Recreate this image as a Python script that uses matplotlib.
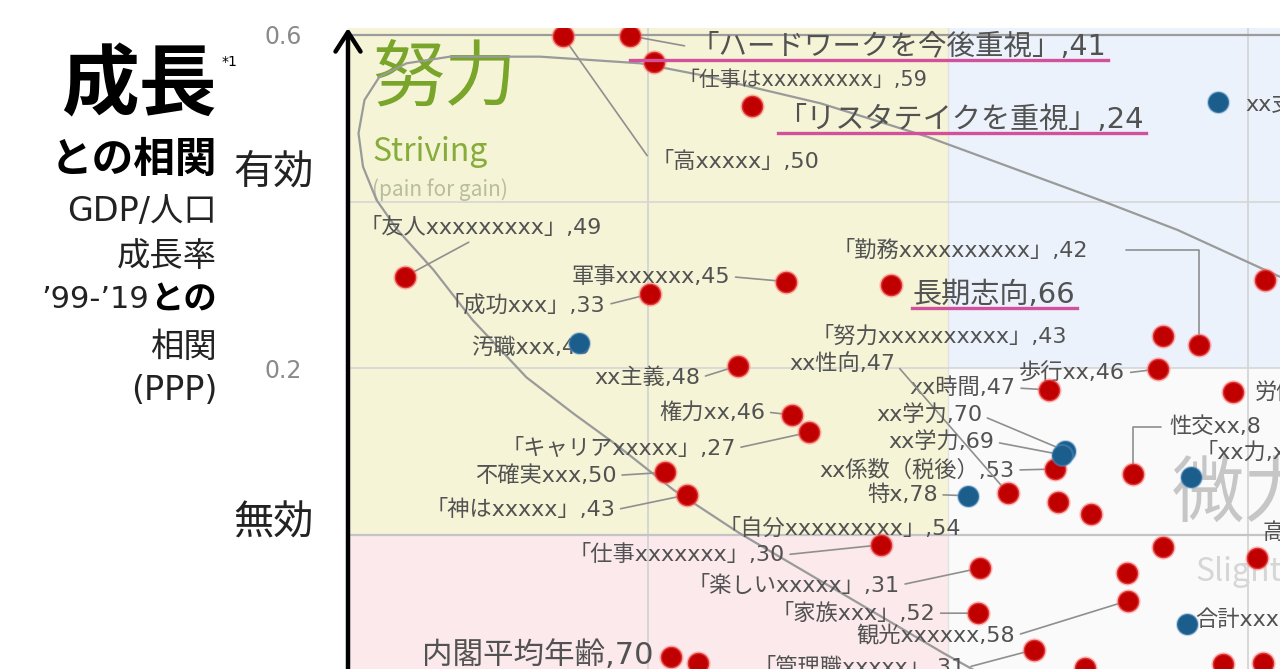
import matplotlib
matplotlib.use('Agg')
import matplotlib.pyplot as plt
from matplotlib.patches import Rectangle
from matplotlib.lines import Line2D
from matplotlib.transforms import IdentityTransform

plt.rcParams['font.family'] = ['Noto Sans CJK JP', 'DejaVu Sans']
WIDE = ['DejaVu Sans', 'Noto Sans CJK JP']

# ---------------- data ----------------
red_labels = ['「高xxxxx」,50', '「ハードワークを今後重視」,41', '「仕事はxxxxxxxxx」,59',
              '「リスタテイクを重視」,24', '「友人xxxxxxxxx」,49', '「成功xxx」,33',
              '軍事xxxxxx,45', '長期志向,66', 'xx主義,48', '権力xx,46', '「キャリアxxxxx」,27',
              '不確実xxx,50', '「神はxxxxx」,43', '', '「努力xxxxxxxxxx」,43',
              '「勤務xxxxxxxxxx」,42', '歩行xx,46', 'xx時間,47', '労働xxx', '性交xx,8',
              'xx係数（税後）,53', 'xx性向,47', '', '「自分xxxxxxxxx」,54', '「仕事xxxxxxx」,30',
              '「楽しいxxxxx」,31', '', '', '高xxx', '「家族xxx」,52', '観光xxxxxx,58',
              '「管理職xxxxx」,31', '', '', '', '内閣平均年齢,70', '']
red_x = [-0.257, -0.212, -0.196, -0.131, -0.362, -0.199, -0.108, -0.038, -0.140, -0.104,
         -0.093, -0.189, -0.174, 0.211, 0.143, 0.167, 0.140, 0.067, 0.190, 0.123,
         0.071, 0.040, 0.073, 0.095, -0.045, 0.021, 0.119, 0.143, 0.206, 0.020,
         0.120, 0.057, 0.183, 0.210, 0.091, -0.185, -0.167]
red_y = [0.599, 0.599, 0.568, 0.515, 0.310, 0.289, 0.304, 0.300, 0.203, 0.144,
         0.123, 0.075, 0.048, 0.306, 0.239, 0.228, 0.199, 0.174, 0.171, 0.073,
         0.079, 0.050, 0.039, 0.025, -0.012, -0.040, -0.046, -0.015, -0.028, -0.094,
         -0.079, -0.138, -0.155, -0.154, -0.160, -0.147, -0.154]

blue_labels = ['xx支出xxx', '汚職xxx,40', 'xx学力,70', 'xx学力,69', '特x,78', '「xx力,xx', '合計xxx']
blue_x = [0.180, -0.246, 0.078, 0.076, 0.013, 0.162, 0.159]
blue_y = [0.520, 0.230, 0.101, 0.096, 0.047, 0.069, -0.107]

curve_x = [0.221, 0.153, 0.101, -0.014, -0.085, -0.165, -0.205, -0.272, -0.332, -0.361,
           -0.379, -0.389, -0.393, -0.390, -0.381, -0.367, -0.343, -0.317, -0.281, -0.250,
           -0.221, -0.183, -0.139, -0.105, -0.003, 0.017]
curve_y = [0.310, 0.366, 0.402, 0.478, 0.518, 0.552, 0.566, 0.574, 0.574, 0.566,
           0.550, 0.522, 0.482, 0.442, 0.402, 0.366, 0.318, 0.258, 0.189, 0.146,
           0.108, 0.054, 0.002, -0.034, -0.142, -0.162]

y_ticks = [0.6, 0.2]
y_tick_labels = ['0.6', '0.2']

# ---------------- layout / style ----------------
W, H = 1280, 669
XMIN, XMAX = -0.4, 0.2213
YMIN, YMAX = -0.161, 0.6084

RED = '#c00000'
BLUE = '#1b5e8c'
LAB = '#525252'
LEAD = '#8f8f8f'
FS = 16
BIG = 20.5

# label -> (dx px, dy px, ha, leader, fontsize, relpos, connectionstyle, shrinkA)
layout = {
    '「高xxxxx」,50': (89, -126, 'left', True, FS, (0, 0.5), None, 2),
    '「ハードワークを今後重視」,41': (60, -11, 'left', True, BIG, (0, 0.5), None, 2),
    '「仕事はxxxxxxxxx」,59': (24, -18, 'left', False, 15, None, None, 0),
    '「リスタテイクを重視」,24': (26, -14, 'left', False, 21, None, None, 0),
    '「友人xxxxxxxxx」,49': (-45, 49, 'left', True, FS, (0.48, 0), None, 2),
    '「成功xxx」,33': (-44, -11, 'right', True, FS, (1, 0.5), None, 2),
    '軍事xxxxxx,45': (-56, 5, 'right', True, FS, (1, 0.5), None, 2),
    '長期志向,66': (21, -10, 'left', False, 21, None, None, 0),
    'xx主義,48': (-38, -12, 'right', True, FS, (1, 0.5), None, 2),
    '権力xx,46': (-27, 3, 'right', True, FS, (1, 0.5), None, 2),
    '「キャリアxxxxx」,27': (-73, -16, 'right', True, FS, (1, 0.5), None, 2),
    '不確実xxx,50': (-48, -3, 'right', True, FS, (1, 0.5), None, 2),
    '「神はxxxxx」,43': (-72, -15, 'right', True, FS, (1, 0.5), None, 2),
    '「努力xxxxxxxxxx」,43': (-96, 0, 'right', False, FS, None, None, 0),
    '「勤務xxxxxxxxxx」,42': (-111, 95, 'right', True, FS, (1, 0.5),
                            'angle,angleA=0,angleB=90,rad=0', 26),
    '歩行xx,46': (-33, -4, 'right', True, FS, (1, 0.5), None, 2),
    'xx時間,47': (-33, 2, 'right', True, FS, (1, 0.5), None, 2),
    '労働xxx': (22, 0, 'left', False, FS, None, None, 0),
    '性交xx,8': (37, 47, 'left', True, FS, (0, 0.5), 'angle,angleA=0,angleB=90,rad=0', 4),
    'xx係数（税後）,53': (-40, -1, 'right', True, FS, (1, 0.5), None, 2),
    'xx性向,47': (-113, 130, 'right', True, FS, (1, 0.5), None, 2),
    '「自分xxxxxxxxx」,54': (-130, -14, 'right', False, FS, None, None, 0),
    '「仕事xxxxxxx」,30': (-96, -10, 'right', True, FS, (1, 0.5), None, 2),
    '「楽しいxxxxx」,31': (-80, -17, 'right', True, FS, (1, 0.5), None, 2),
    '高xxx': (5, 25, 'left', False, FS, None, None, 0),
    '「家族xxx」,52': (-43, 0, 'right', True, FS, (1, 0.5), None, 2),
    '観光xxxxxx,58': (-113, -35, 'right', True, FS, (1, 0.5), None, 2),
    '「管理職xxxxx」,31': (-68, -18, 'right', True, FS, (1, 0.5), None, 2),
    '内閣平均年齢,70': (-17, 2, 'right', False, 22, None, None, 0),
    'xx支出xxx': (27, -3, 'left', False, FS, None, None, 0),
    '汚職xxx,40': (11, -4, 'right', False, FS, None, None, 0),
    'xx学力,70': (-83, 35, 'right', True, FS, (1, 0.5), None, 2),
    'xx学力,69': (-68, 13, 'right', True, FS, (1, 0.5), None, 2),
    '特x,78': (-30, 1, 'right', True, FS, (1, 0.5), None, 2),
    '「xx力,xx': (4, 25, 'left', False, FS, None, None, 0),
    '合計xxx': (9, 4, 'left', False, FS, None, None, 0),
}
underlined = ['「ハードワークを今後重視」,41', '「リスタテイクを重視」,24', '長期志向,66']

fig = plt.figure(figsize=(W / 100, H / 100), dpi=100)
fig.patch.set_facecolor('white')
ax = fig.add_axes([348 / W, 0, 1 - 348 / W, 1 - 28 / H])
ax.set_xlim(XMIN, XMAX)
ax.set_ylim(YMIN, YMAX)
for s in ax.spines.values():
    s.set_visible(False)
ax.set_xticks([])
ax.set_yticks(y_ticks)
ax.set_yticklabels(y_tick_labels, color='#8a8a8a', fontsize=17, family=WIDE)
ax.tick_params(axis='y', length=0, pad=33)

# background regions
ax.add_patch(Rectangle((XMIN, 0), 0 - XMIN, YMAX, facecolor='#f5f4d6', edgecolor='none', zorder=0))
ax.add_patch(Rectangle((0, 0.2), XMAX, YMAX - 0.2, facecolor='#ebf2fb', edgecolor='none', zorder=0))
ax.add_patch(Rectangle((XMIN, YMIN), 0 - XMIN, 0 - YMIN, facecolor='#fbe9eb', edgecolor='none', zorder=0))
ax.add_patch(Rectangle((0, YMIN), XMAX, 0.2 - YMIN, facecolor='#fafafa', edgecolor='none', zorder=0))

# grid
for gx in [-0.2, 0.2]:
    ax.axvline(gx, color='#d2d2d2', lw=1.2, zorder=1)
ax.axvline(0, color='#e2e2e2', lw=1.0, zorder=1)
for gy in [0.4, 0.2]:
    ax.axhline(gy, color='#d6d6d6', lw=1.2, zorder=1)
ax.axhline(0, color='#c4c4c4', lw=1.6, zorder=1)
ax.axhline(0.6, color='#9c9c9c', lw=1.6, zorder=1)

# region titles
ax.text(-0.384, 0.546, '努力', fontsize=52, color='#79a52a', ha='left', va='center', zorder=2)
ax.text(-0.384, 0.460, 'Striving', fontsize=23, color='#86ad3a', ha='left', va='center', zorder=2)
ax.text(-0.384, 0.414, '(pain for gain)', fontsize=15, color='#b8bd9c', ha='left', va='center', zorder=2)
ax.text(0.149, 0.048, '微力', fontsize=52, color='#c6c6c6', ha='left', va='center', zorder=2)
ax.text(0.165, -0.045, 'Slight', fontsize=23, color='#d6d6d6', ha='left', va='center', zorder=2)

# boundary curve
ax.plot(curve_x, curve_y, color='#9a9a9a', lw=1.6, zorder=3, solid_capstyle='round')

# labels with leaders
texts = {}
def put_labels(xs, ys, labels):
    for x, y, lab in zip(xs, ys, labels):
        if not lab:
            continue
        dx, dy, ha, leader, fs, relpos, conn, shA = layout[lab]
        kw = {}
        if leader:
            ap = dict(arrowstyle='-', color=LEAD, lw=1.2, shrinkA=shA, shrinkB=0, relpos=relpos)
            if conn:
                ap['connectionstyle'] = conn
            kw['arrowprops'] = ap
        t = ax.annotate(lab, xy=(x, y), xytext=(dx, dy), textcoords='offset pixels',
                        ha=ha, va='center', fontsize=fs, color=LAB, zorder=4,
                        family=WIDE, annotation_clip=False, **kw)
        texts[lab] = t

put_labels(red_x, red_y, red_labels)
put_labels(blue_x, blue_y, blue_labels)

# points
ax.scatter(red_x, red_y, s=240, color=RED, edgecolor=(1, 0.45, 0.45, 0.45), linewidth=2, zorder=5)
ax.scatter(blue_x, blue_y, s=230, color=BLUE, edgecolor=(0.4, 0.6, 0.8, 0.4), linewidth=1.5, zorder=5)

# vertical axis arrow
ax.annotate('', xy=(0, 1.0), xycoords='axes fraction', xytext=(0, 0), textcoords='axes fraction',
            arrowprops=dict(arrowstyle='->,head_length=0.7,head_width=0.45', lw=3.2, color='black',
                            shrinkA=0, shrinkB=0, mutation_scale=20), annotation_clip=False, zorder=6)

# left axis title
def ft(px, py, s, **kw):
    fig.text(px / W, 1 - py / H, s, **kw)

ft(217, 87, '成長', fontsize=56, fontweight='bold', ha='right', va='center', color='black')
ft(222, 62, '*1', fontsize=10, ha='left', va='center', color='black', family=WIDE)
ft(217, 160, 'との相関', fontsize=30, fontweight='bold', ha='right', va='center', color='black')
ft(217, 212, 'GDP/人口', fontsize=24, ha='right', va='center', color='#222222', family=WIDE)
ft(217, 257, '成長率', fontsize=24, ha='right', va='center', color='#222222')
ft(217, 300, 'との', fontsize=24, fontweight='bold', ha='right', va='center', color='black')
ft(149, 300, '’99-’19', fontsize=22, ha='right', va='center', color='#222222', family=WIDE)
ft(217, 347, '相関', fontsize=24, ha='right', va='center', color='#222222')
ft(217, 390, '(PPP)', fontsize=24, ha='right', va='center', color='#222222', family=WIDE)
ft(233, 172, '有効', fontsize=29, ha='left', va='center', color='#222222')
ft(233, 523, '無効', fontsize=29, ha='left', va='center', color='#222222')

# pink underlines under highlighted labels
fig.canvas.draw()
rend = fig.canvas.get_renderer()
for lab in underlined:
    bb = texts[lab].get_window_extent(rend)
    yline = bb.y0 + 1
    fig.add_artist(Line2D([bb.x0, bb.x1 + 2], [yline, yline], transform=IdentityTransform(),
                          color='#d3509c', lw=2.4, zorder=7))

fig.savefig('out.png', dpi=100, facecolor='white')
